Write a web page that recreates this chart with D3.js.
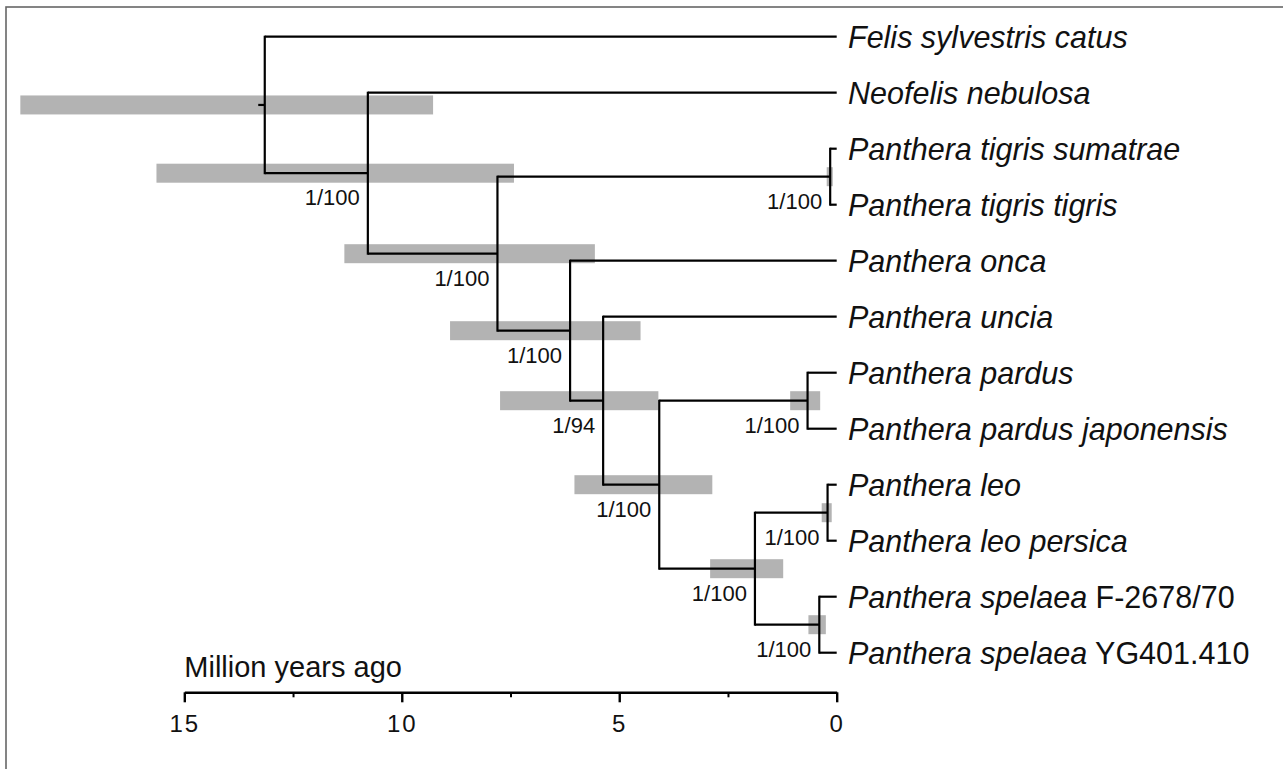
<!DOCTYPE html>
<html lang="en">
<head>
  <meta charset="UTF-8">
  <title>Panthera time tree</title>
  <script src="https://cdn.jsdelivr.net/npm/d3@7"></script>
<style>
  body { margin: 0; background: #fff; }
  svg text { font-family: "Liberation Sans", Arial, Helvetica, sans-serif; fill: #111; }
</style>
</head>

<body>
  <script>
    // tips, top to bottom
    var taxonNames = ['Felis sylvestris catus', 'Neofelis nebulosa',
      'Panthera tigris sumatrae', 'Panthera tigris tigris', 'Panthera onca',
      'Panthera uncia', 'Panthera pardus', 'Panthera pardus japonensis',
      'Panthera leo', 'Panthera leo persica', 'Panthera spelaea', 'Panthera spelaea'];
    var specimenCodes = ['', '', '', '', '', '', '', '', '', '', 'F-2678/70', 'YG401.410'];
    var taxonParents = ['root', 'n1', 'tig', 'tig', 'n3', 'n4', 'par', 'par', 'leo', 'leo', 'spe', 'spe'];

    // internal nodes: age and 95% HPD in million years
    var nodeNames   = ['root', 'n1', 'n2', 'tig', 'n3', 'n4', 'n5', 'par', 'n6', 'leo', 'spe'];
    var nodeParents = [null, 'root', 'n1', 'n2', 'n2', 'n3', 'n4', 'n5', 'n5', 'n6', 'n6'];
    var nodeAges    = [13.15, 10.78, 7.80, 0.15, 6.13, 5.37, 4.08, 0.67, 1.88, 0.21, 0.40];
    var hpdOld      = [18.77, 15.64, 11.32, 0.23, 8.89, 7.74, 6.03, 1.07, 2.91, 0.345, 0.65];
    var hpdYoung    = [9.28, 7.42, 5.56, 0.09, 4.51, 4.10, 2.86, 0.38, 1.23, 0.115, 0.25];
    var support     = [null, '1/100', '1/100', '1/100', '1/100', '1/94', '1/100', '1/100', '1/100', '1/100', '1/100'];
    var rootStem = 0.15;

    var majorTicks = [15, 10, 5, 0];
    var minorTicks = [12.5, 7.5, 2.5];
    var axisTitle = 'Million years ago';

    var w = 1283, h = 769;

    var x = d3.scaleLinear().domain([15, 0]).range([184.3, 836.7]);
    var yLeaf = d3.scaleLinear().domain([0, taxonNames.length - 1]).range([36.7, 652.7]);

    // one table for stratify
    var rows = nodeNames.map((n, i) => ({
      id: n, parent: nodeParents[i], age: nodeAges[i],
      lo: hpdOld[i], hi: hpdYoung[i], support: support[i]
    }));
    taxonNames.forEach((t, i) => rows.push({
      id: 'tip' + i, parent: taxonParents[i], age: 0, index: i,
      name: t, code: specimenCodes[i]
    }));

    var root = d3.stratify().id(d => d.id).parentId(d => d.parent)(rows);
    root.eachAfter(function(n) {
      if (!n.children) { n.y = yLeaf(n.data.index); }
      else { n.y = d3.mean(d3.extent(n.children, c => c.y)); }
      n.x = x(n.data.age);
    });
    var inner = root.descendants().filter(n => n.children);

    var svg = d3.select('body')
                .append('svg')
                .attr('width', w)
                .attr('height', h);

    // frame, cropped on the right and bottom
    svg.append('rect')
      .attr('x', 6).attr('y', 7)
      .attr('width', 1400).attr('height', 900)
      .attr('fill', 'none')
      .attr('stroke', '#666')
      .attr('stroke-width', 1.6);

    // HPD bars
    svg.selectAll('rect.hpd')
      .data(inner)
      .enter()
      .append('rect')
      .attr('class', 'hpd')
      .attr('x', d => x(d.data.lo))
      .attr('y', d => d.y - 9.5)
      .attr('width', d => x(d.data.hi) - x(d.data.lo))
      .attr('height', 19)
      .attr('fill', '#b3b3b3');

    var lines = svg.append('g')
      .attr('stroke', '#000')
      .attr('stroke-width', 2.2)
      .attr('fill', 'none');

    // verticals
    lines.selectAll('line.v')
      .data(inner)
      .enter()
      .append('line')
      .attr('x1', d => d.x).attr('x2', d => d.x)
      .attr('y1', d => d3.min(d.children, c => c.y) - 1)
      .attr('y2', d => d3.max(d.children, c => c.y) + 1);

    // horizontals
    lines.selectAll('line.h')
      .data(root.descendants().filter(n => n.parent))
      .enter()
      .append('line')
      .attr('x1', d => d.parent.x).attr('x2', d => d.x)
      .attr('y1', d => d.y).attr('y2', d => d.y);

    lines.append('line')
      .attr('x1', x(root.data.age + rootStem)).attr('x2', root.x)
      .attr('y1', root.y).attr('y2', root.y);

    // support values
    svg.selectAll('text.support')
      .data(inner.filter(d => d.data.support))
      .enter()
      .append('text')
      .attr('x', d => d.x - 8)
      .attr('y', d => d.y + 32)
      .attr('text-anchor', 'end')
      .attr('font-size', '22px')
      .text(d => d.data.support);

    // tip labels
    var tips = svg.selectAll('text.tip')
      .data(root.leaves())
      .enter()
      .append('text')
      .attr('x', 848)
      .attr('y', d => d.y + 11)
      .attr('font-size', '30.5px');
    tips.append('tspan')
      .attr('font-style', 'italic')
      .text(d => d.data.name);
    tips.filter(d => d.data.code)
      .append('tspan')
      .text(d => ' ' + d.data.code);

    // time axis
    var axisY = 692.3;
    var axis = svg.append('g')
      .attr('transform', `translate(0,${axisY})`)
      .call(d3.axisBottom(x).tickValues(majorTicks).tickSize(10).tickSizeOuter(0).tickPadding(13).tickFormat(d3.format('d')));
    axis.select('.domain').attr('stroke-width', 2.4).attr('stroke', '#000');
    axis.selectAll('.tick line').attr('stroke-width', 2.4).attr('stroke', '#000');
    axis.selectAll('.tick text')
      .attr('font-size', '24px')
      .attr('font-family', '"Liberation Sans", Arial, sans-serif')
      .attr('letter-spacing', '2px')
      .attr('fill', '#111');

    var minor = svg.append('g')
      .attr('transform', `translate(0,${axisY})`)
      .call(d3.axisBottom(x).tickValues(minorTicks).tickSize(5).tickSizeOuter(0).tickFormat(''));
    minor.select('.domain').remove();
    minor.selectAll('.tick line').attr('stroke-width', 2).attr('stroke', '#000');

    svg.append('text')
      .attr('x', x(15))
      .attr('y', 676.7)
      .attr('font-size', '29px')
      .text(axisTitle);
  </script>
</body>
</html>
